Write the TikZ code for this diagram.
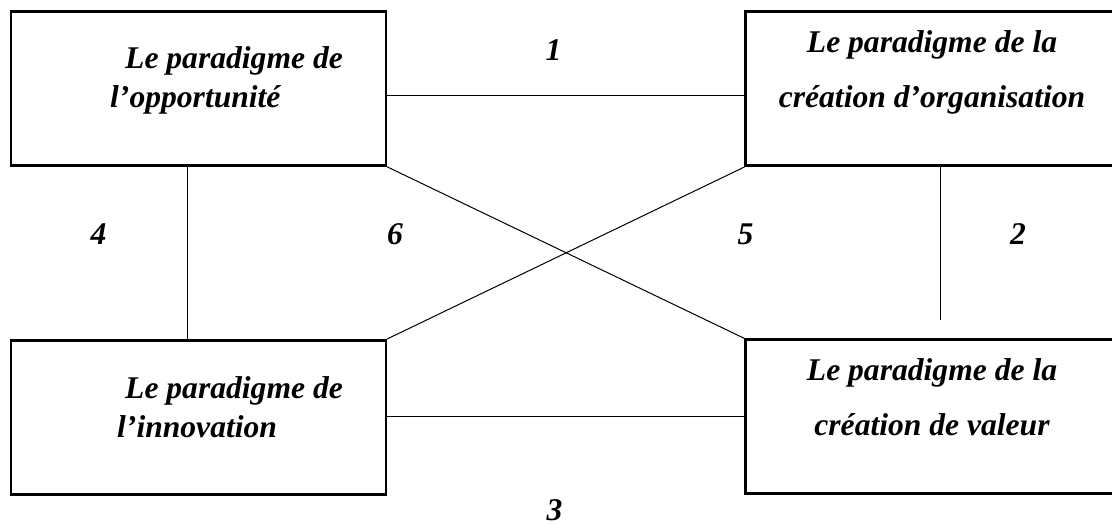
\documentclass[tikz,border=0pt]{standalone}
\usepackage{fontspec}
\setmainfont{Liberation Serif}
\begin{document}
\begin{tikzpicture}[x=1pt,y=-1pt,
  boite/.style={draw, rectangle, line width=2.6pt, minimum width=375pt, minimum height=154pt, inner sep=0pt},
  titre/.style={inner sep=0pt, anchor=base west, align=left, font=\bfseries\itshape\fontsize{31.6}{39}\selectfont},
  titrec/.style={inner sep=0pt, anchor=base, align=center, font=\bfseries\itshape\fontsize{31.6}{55}\selectfont},
  chiffre/.style={inner sep=0pt, anchor=base, font=\bfseries\itshape\fontsize{31.6}{38}\selectfont},
  lien/.style={line width=1pt}]
\useasboundingbox (0,0) rectangle (1112,525);
\node[boite] (opp) at (198.3,88.5) {};
\node[boite] (org) at (933.2,88.7) {};
\node[boite] (inno) at (198.3,417.3) {};
\node[boite] (val) at (933.2,416.7) {};
% base = baseline of the last line
\node[titre] (opp-t) at (110,107.3) {\hspace*{15pt}Le paradigme de\\l’opportunité};
\node[titrec] (org-t) at (932,107.3) {Le paradigme de la\\création d’organisation};
\node[titre] (inno-t) at (117,437) {\hspace*{8pt}Le paradigme de\\l’innovation};
\node[titrec] (val-t) at (932,435) {Le paradigme de la\\création de valeur};
\node[chiffre] (n1) at (553.5,60) {1};
\node[chiffre] (n2) at (1018,244) {2};
\node[chiffre] (n3) at (554.5,520) {3};
\node[chiffre] (n4) at (98.5,244) {4};
\node[chiffre] (n5) at (745.5,244) {5};
\node[chiffre] (n6) at (395,244) {6};
\coordinate (bout) at (940.7,320);
\draw[lien] (opp.east |- 0,95) -- (org.west |- 0,95);
\draw[lien] (opp.south -| 187,0) -- (inno.north -| 187,0);
\draw[lien] (org.south -| bout) -- (bout);
\draw[lien] (inno.east |- 0,416.7) -- (val.west |- 0,416.7);
\draw[lien] (opp.south east) -- (val.north west);
\draw[lien] (org.south west) -- (inno.north east);
\end{tikzpicture}
\end{document}
